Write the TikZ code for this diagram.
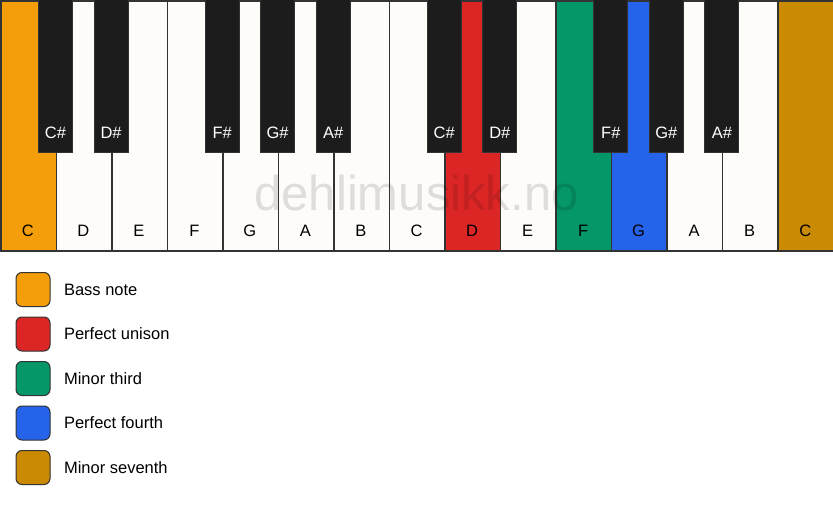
\documentclass[tikz,border=0pt]{standalone}
\usepackage{fontspec}
\setmainfont{Liberation Sans}
\definecolor{wkey}{HTML}{FDFCF9}
\definecolor{bkey}{HTML}{1C1C1C}
\definecolor{cbass}{HTML}{F59E0B}
\definecolor{cred}{HTML}{DC2626}
\definecolor{cgreen}{HTML}{059669}
\definecolor{cblue}{HTML}{2563EB}
\definecolor{cgold}{HTML}{CA8A04}
\definecolor{edge}{HTML}{333333}
\begin{document}
\begin{tikzpicture}[x=1pt,y=-1pt,
  whitekey/.style={draw=edge,line width=1.5pt,fill=wkey,minimum width=55.53pt,minimum height=250pt,inner sep=0pt,anchor=north west},
  blackkey/.style={draw=edge,line width=1pt,fill=bkey,minimum width=34pt,minimum height=153pt,inner sep=0pt,anchor=north},
  wlabel/.style={font=\fontsize{16.5}{16.5}\selectfont,text=black},
  blabel/.style={font=\fontsize{16.5}{16.5}\selectfont,text=white},
  legbox/.style={draw=edge,line width=1pt,rounded corners=6pt,minimum width=34pt,minimum height=34pt,inner sep=0pt},
  legtext/.style={font=\fontsize{16.5}{16.5}\selectfont,anchor=west}]
\useasboundingbox (0,0) rectangle (833,506);
\fill[white] (0,0) rectangle (833,506);
% white keys
\foreach \i/\n/\c in {0/C/cbass,1/D/wkey,2/E/wkey,3/F/wkey,4/G/wkey,5/A/wkey,6/B/wkey,7/C/wkey,8/D/cred,9/E/wkey,10/F/cgreen,11/G/cblue,12/A/wkey,13/B/wkey,14/C/cgold}{
  \node[whitekey,fill=\c] (w\i) at (\i*55.533,0) {};
  \node[wlabel] (wl\i) at (\i*55.533+27.77,231) {\n};
}
% watermark
\node[font=\fontsize{49}{49}\selectfont,text=black,opacity=0.12] (wm) at (416.5,193) {dehlimusikk.no};
% black keys
\foreach \i/\n in {1/C\#,2/D\#,4/F\#,5/G\#,6/A\#,8/C\#,9/D\#,11/F\#,12/G\#,13/A\#}{
  \node[blackkey] (b\i) at (\i*55.533,-1) {};
  \node[blabel] (bl\i) at (\i*55.533,133) {\n};
}
% legend
\foreach \k/\c/\t [count=\j from 0] in {a/cbass/Bass note,b/cred/Perfect unison,c/cgreen/Minor third,d/cblue/Perfect fourth,e/cgold/Minor seventh}{
  \node[legbox,fill=\c] (lb\k) at (33,289.5+\j*44.5) {};
  \node[legtext] (lt\k) at (60.5,289.5+\j*44.5) {\t};
}
\end{tikzpicture}
\end{document}
